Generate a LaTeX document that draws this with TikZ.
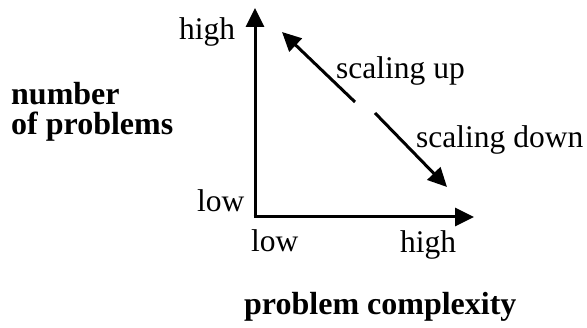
\documentclass[tikz,border=0pt]{standalone}
\usepackage{fontspec}
\setmainfont{Liberation Serif}
\usetikzlibrary{arrows.meta}
\begin{document}
\begin{tikzpicture}[x=1pt,y=-1pt,
  lbl/.style={anchor=base west,inner sep=0pt,font=\fontsize{31.5}{36}\selectfont},
  blbl/.style={lbl,font=\fontsize{32}{36}\selectfont\bfseries},
  arr/.style={line width=3pt,-{Triangle[length=19pt,width=18pt]}}]
\useasboundingbox (0,0) rectangle (587,328);
\coordinate (o) at (255,217);
\coordinate (ytop) at (255,8);
\coordinate (xend) at (474,217);
\draw[arr] ([yshift=1.5pt]o) -- (ytop);
\draw[arr] ([xshift=-1.5pt]o) -- (xend);
\coordinate (u1) at (355,102);
\coordinate (u2) at (282,32);
\coordinate (d1) at (375,113);
\coordinate (d2) at (447,187);
\draw[arr] (u1) -- (u2);
\draw[arr] (d1) -- (d2);
\node[lbl] (yhigh) at (179,40) {high};
\node[lbl] (ylow) at (197,212) {low};
\node[lbl] (xlow) at (251,252) {low};
\node[lbl] (xhigh) at (400,253) {high};
\node[lbl] (up) at (336,79) {scaling up};
\node[lbl] (down) at (416,148) {scaling down};
\node[blbl] (n1) at (11,105) {number};
\node[blbl] (n2) at (11,135) {of problems};
\node[blbl] (pc) at (244,315) {problem complexity};
\end{tikzpicture}
\end{document}
